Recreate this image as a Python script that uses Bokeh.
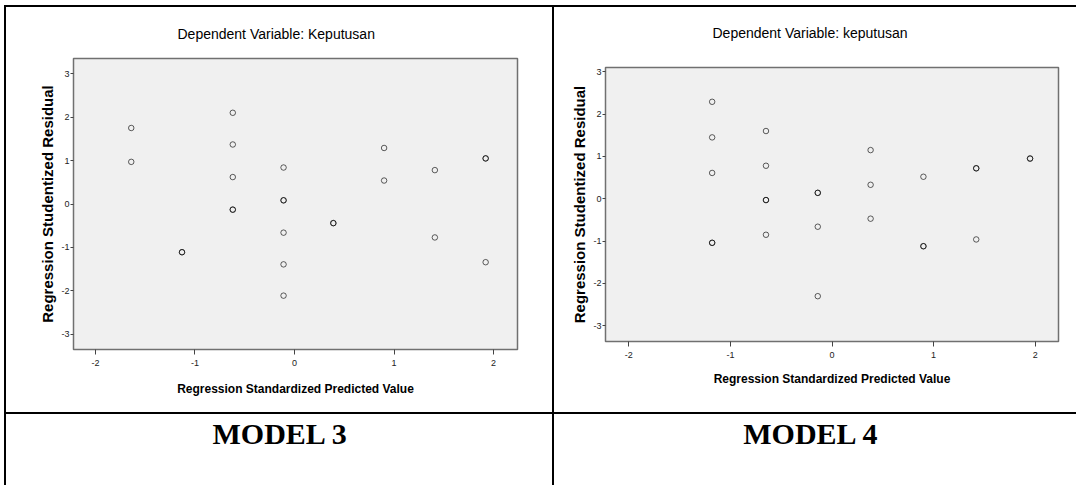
from bokeh.plotting import figure
from bokeh.layouts import row, column
from bokeh.models import Range1d, FixedTicker, Div, Spacer, LinearAxis
from bokeh.embed import file_html
from bokeh.resources import INLINE
from bokeh.core.properties import value

# ---------------- data ----------------
x_ticks = [-2, -1, 0, 1, 2]
y_ticks = [-3, -2, -1, 0, 1, 2, 3]
x_title = "Regression Standardized Predicted Value"
y_title = "Regression Studentized Residual"
titles = ["Dependent Variable: Keputusan", "Dependent Variable: keputusan"]
model_labels = ["MODEL 3", "MODEL 4"]

# Model 3 (duplicated entries = overlapping observations)
pred3 = [-1.64, -1.64, -1.13, -1.13, -0.62, -0.62, -0.62, -0.62, -0.62,
         -0.11, -0.11, -0.11, -0.11, -0.11, -0.11, 0.39, 0.39, 0.90, 0.90,
         1.41, 1.41, 1.92, 1.92, 1.92]
resid3 = [1.75, 0.97, -1.11, -1.11, 2.10, 1.37, 0.62, -0.13, -0.13,
          0.84, 0.085, 0.085, -0.66, -1.39, -2.11, -0.44, -0.44, 1.29, 0.54,
          0.78, -0.77, 1.05, 1.05, -1.34]

# Model 4
pred4 = [-1.18, -1.18, -1.18, -1.18, -1.18, -0.65, -0.65, -0.65, -0.65, -0.65,
         -0.14, -0.14, -0.14, -0.14, 0.38, 0.38, 0.38, 0.90, 0.90, 0.90,
         1.42, 1.42, 1.42, 1.95, 1.95]
resid4 = [2.29, 1.45, 0.61, -1.04, -1.04, 1.60, 0.78, -0.03, -0.03, -0.85,
          0.14, 0.14, -0.66, -2.30, 1.15, 0.33, -0.47, 0.52, -1.12, -1.12,
          0.72, 0.72, -0.96, 0.95, 0.95]

SANS = "Liberation Sans"


def rule(w, h):
    return Div(text="", width=w, height=h, margin=0,
               styles={"background-color": "black"})


def scatter_panel(w, h, xs, ys, title, borders, xr, yr,
                  t_offset, t_standoff, top_gap, xlab_standoff):
    bl, br, bt, bb = borders
    p = figure(width=w, height=h, toolbar_location=None, output_backend="svg",
               x_range=Range1d(*xr), y_range=Range1d(*yr),
               min_border_left=bl, min_border_right=br,
               min_border_top=bt, min_border_bottom=bb,
               background_fill_color="#f0f0f0", border_fill_color="white",
               outline_line_color="#707070", outline_line_width=1.5)
    p.xgrid.visible = False
    p.ygrid.visible = False
    p.scatter(xs, ys, marker="circle", size=5.5, fill_color=None,
              line_color="black", line_alpha=0.62, line_width=1)

    xa = p.xaxis[0]
    ya = p.yaxis[0]
    xa.ticker = FixedTicker(ticks=x_ticks)
    ya.ticker = FixedTicker(ticks=y_ticks)
    xa.major_label_overrides = {t: str(t) for t in x_ticks}
    ya.major_label_overrides = {t: str(t) for t in y_ticks}
    for ax in (xa, ya):
        ax.axis_line_color = None
        ax.major_tick_in = 0
        ax.minor_tick_line_color = None
        ax.major_tick_line_color = "#444444"
        ax.major_label_text_font = SANS
        ax.major_label_text_font_size = "9px"
        ax.major_label_text_color = "#222222"
        ax.axis_label_text_font = SANS
        ax.axis_label_text_font_style = "bold"
        ax.axis_label_text_color = "black"
    xa.major_tick_out = 5
    xa.major_label_standoff = 5
    xa.axis_label = x_title
    xa.axis_label_text_font_size = "12px"
    xa.axis_label_standoff = xlab_standoff
    ya.major_tick_out = 3
    ya.major_label_standoff = 1
    ya.axis_label = y_title
    ya.axis_label_text_font_size = "15px"
    ya.axis_label_standoff = 2

    if top_gap > 0:
        # invisible spacer axis between the frame and the title
        gap = LinearAxis(ticker=FixedTicker(ticks=[0]), major_tick_out=top_gap,
                         major_tick_in=0, axis_line_color=None,
                         major_tick_line_color=None, minor_tick_line_color=None,
                         major_label_standoff=0,
                         major_label_text_font_size="0px",
                         major_label_text_color=None)
        p.add_layout(gap, "above")

    p.title.text = title
    p.title.align = "left"
    p.title.vertical_align = "top"
    p.title.offset = t_offset
    p.title.standoff = t_standoff
    p.title.text_font = SANS
    p.title.text_font_size = "14px"
    p.title.text_font_style = "normal"
    p.title.text_color = "black"
    return p


def label_panel(w, h, text, cx):
    p = figure(width=w, height=h, toolbar_location=None, output_backend="svg",
               min_border=0, x_axis_location=None, y_axis_location=None,
               x_range=Range1d(0, 1), y_range=Range1d(0, 1),
               background_fill_color="white", border_fill_color="white",
               outline_line_color=None)
    p.xgrid.visible = False
    p.ygrid.visible = False
    p.text(x=[cx], y=[0.73], text=[text], text_align="center",
           text_baseline="middle", text_font=value("Liberation Serif"),
           text_font_style="bold", text_font_size="30px", text_color="black")
    return p


# left cell: x 6..552, y 7..412 ; right cell: x 554..1076
pL = scatter_panel(546, 405, pred3, resid3, titles[0], (67, 35, 51, 63),
                   (-2.22, 2.24), (-3.35, 3.35), 104, 30, 0, 13)
pR = scatter_panel(522, 405, pred4, resid4, titles[1], (51, 18, 60, 71),
                   (-2.23, 2.23), (-3.37, 3.10), 107, 35, 7, 11)
lab3 = label_panel(546, 71, model_labels[0], 0.466)
lab4 = label_panel(522, 71, model_labels[1], 0.454)

left_col = column(rule(546, 2), pL, rule(546, 2), lab3, spacing=0)
right_col = column(rule(522, 2), pR, rule(522, 2), lab4, spacing=0)

inner = row(Spacer(width=4, height=480), rule(2, 480), left_col,
            rule(2, 480), right_col, spacing=0)
layout = column(Spacer(width=1076, height=5), inner, spacing=0)

open("out.html", "w").write(file_html(layout, INLINE))
